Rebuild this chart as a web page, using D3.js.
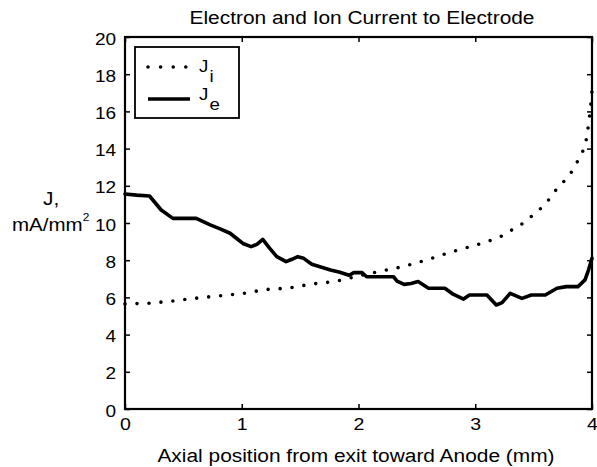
<!DOCTYPE html>
<html>
<head>
<meta charset="utf-8">
<script src="https://cdn.jsdelivr.net/npm/d3@7"></script>
<style>
body { margin: 0; background: #fff; }
text { font-family: "Liberation Sans", Arial, Helvetica, sans-serif; fill: #000; }
</style>
</head>
<body>
<svg id="chart" width="597" height="467"></svg>
<script>
// ---- data ----
const xTicks = [0, 1, 2, 3, 4];
const yTicks = [0, 2, 4, 6, 8, 10, 12, 14, 16, 18, 20];

const jiX = [0, 0.2, 0.4, 0.6, 0.8, 1.0, 1.2, 1.4, 1.6, 1.8, 2.0, 2.2, 2.4, 2.6, 2.8, 3.0, 3.2, 3.4, 3.5, 3.6, 3.7, 3.8, 3.85, 3.9, 3.94, 3.96, 3.98, 3.99, 4.0];
const jiY = [5.65, 5.68, 5.8, 5.95, 6.08, 6.2, 6.42, 6.5, 6.72, 6.85, 7.15, 7.42, 7.68, 8.05, 8.45, 8.8, 9.2, 9.95, 10.45, 11.0, 11.85, 12.5, 13.0, 13.6, 14.1, 14.8, 15.8, 16.4, 17.1];

const jeX = [0, 0.1, 0.21, 0.31, 0.41, 0.5, 0.61, 0.73, 0.81, 0.9, 0.97, 1.01, 1.08, 1.13, 1.18, 1.24, 1.30, 1.38, 1.43, 1.48, 1.53, 1.60, 1.67, 1.76, 1.84, 1.92, 1.96, 2.03, 2.07, 2.3, 2.33, 2.39, 2.45, 2.51, 2.6, 2.74, 2.81, 2.9, 2.95, 3.1, 3.18, 3.23, 3.3, 3.4, 3.48, 3.6, 3.7, 3.78, 3.88, 3.94, 3.97, 4.0];
const jeY = [11.56, 11.5, 11.45, 10.7, 10.25, 10.25, 10.25, 9.9, 9.7, 9.45, 9.1, 8.9, 8.73, 8.85, 9.12, 8.64, 8.19, 7.92, 8.05, 8.19, 8.1, 7.78, 7.65, 7.47, 7.35, 7.19, 7.33, 7.33, 7.11, 7.11, 6.88, 6.7, 6.75, 6.85, 6.49, 6.49, 6.17, 5.91, 6.13, 6.13, 5.59, 5.72, 6.22, 5.95, 6.13, 6.13, 6.49, 6.58, 6.58, 6.94, 7.47, 8.1];

const titleText = "Electron and Ion Current to Electrode";
const xLabelText = "Axial position from exit toward Anode (mm)";
const legendLabels = [{ base: "J", sub: "i" }, { base: "J", sub: "e" }];

// ---- layout ----
const svg = d3.select("#chart");
const L = 125, R = 592, T = 37, B = 409;
const x = d3.scaleLinear().domain([0, 4]).range([L, R]);
const y = d3.scaleLinear().domain([0, 20]).range([B, T]);

const SX = 1.1;

// axes (ticks inward on all sides)
const axB = svg.append("g").attr("transform", `translate(0,${B})`)
  .call(d3.axisBottom(x).tickValues(xTicks).tickSize(-5).tickPadding(9).tickFormat(d3.format("d")));
const axL = svg.append("g").attr("transform", `translate(${L},0)`)
  .call(d3.axisLeft(y).tickValues(yTicks).tickSize(-5).tickPadding(8).tickFormat(d3.format("d")));
const axT = svg.append("g").attr("transform", `translate(0,${T})`)
  .call(d3.axisTop(x).tickValues(xTicks).tickSize(-5).tickFormat(""));
const axR = svg.append("g").attr("transform", `translate(${R},0)`)
  .call(d3.axisRight(y).tickValues(yTicks).tickSize(-5).tickFormat(""));

[axB, axL, axT, axR].forEach(g => {
  g.select(".domain").remove();
  g.selectAll(".tick line").attr("stroke", "#000").attr("stroke-width", 1.5);
});
axB.selectAll(".tick text").attr("font-size", 17).attr("transform", `scale(1.15,1)`);
axL.selectAll(".tick text").attr("font-size", 17).attr("dy", "0.42em")
  .attr("transform", `scale(1.12,1)`);

// plot box
svg.append("rect").attr("x", L).attr("y", T).attr("width", R - L).attr("height", B - T)
  .attr("fill", "none").attr("stroke", "#000").attr("stroke-width", 2.2);

// lines
const line = d3.line().x(d => x(d[0])).y(d => y(d[1]));
const jiData = jiX.map((v, i) => [v, jiY[i]]);
const jeData = jeX.map((v, i) => [v, jeY[i]]);

svg.append("path").datum(jiData).attr("d", line)
  .attr("fill", "none").attr("stroke", "#000").attr("stroke-width", 3.6)
  .attr("stroke-linecap", "round").attr("stroke-dasharray", "0,12");

svg.append("path").datum(jeData).attr("d", line)
  .attr("fill", "none").attr("stroke", "#000").attr("stroke-width", 3.6)
  .attr("stroke-linejoin", "round").attr("stroke-linecap", "round");

// legend
const lg = svg.append("g");
lg.append("rect").attr("x", 135).attr("y", 47).attr("width", 104).attr("height", 71)
  .attr("fill", "#fff").attr("stroke", "#000").attr("stroke-width", 1.8);
lg.append("line").attr("x1", 148).attr("x2", 186).attr("y1", 67).attr("y2", 67)
  .attr("stroke", "#000").attr("stroke-width", 3.6).attr("stroke-linecap", "round")
  .attr("stroke-dasharray", "0,12.6");
lg.append("line").attr("x1", 148).attr("x2", 190).attr("y1", 99).attr("y2", 99)
  .attr("stroke", "#000").attr("stroke-width", 3.6);
const ly = [72, 100];
legendLabels.forEach((lab, i) => {
  const t = lg.append("text").attr("transform", `translate(199,${ly[i]}) scale(${SX},1)`)
    .attr("font-size", 17);
  t.append("tspan").text(lab.base);
  t.append("tspan").attr("dy", 10).attr("dx", 1).text(lab.sub);
});

// title
svg.append("text").attr("transform", `translate(362,24) scale(${SX},1)`)
  .attr("text-anchor", "middle").attr("font-size", 19).text(titleText);

// x label
svg.append("text").attr("transform", `translate(356,462) scale(${SX},1)`)
  .attr("text-anchor", "middle").attr("font-size", 19).text(xLabelText);

// y label
svg.append("text").attr("transform", `translate(43,205) scale(${SX},1)`)
  .attr("font-size", 19).text("J,");
const yl = svg.append("text").attr("transform", `translate(12,231) scale(1.08,1)`)
  .attr("font-size", 19);
yl.append("tspan").text("mA/mm");
yl.append("tspan").attr("dy", -10).attr("font-size", 11).text("2");
</script>
</body>
</html>
